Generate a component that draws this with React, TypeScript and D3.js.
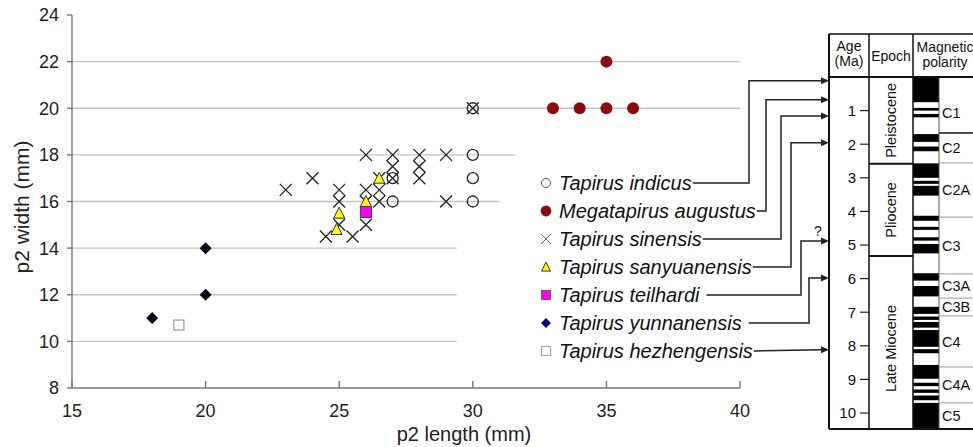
import React, { useEffect, useRef } from "react";
import * as d3 from "d3";

// ---------- data ----------
const xTicks = [15, 20, 25, 30, 35, 40];
const yTicks = [8, 10, 12, 14, 16, 18, 20, 22, 24];
const gridValues = [10, 12, 14, 16, 18, 20, 22];

const speciesNames = [
  "Tapirus indicus",
  "Megatapirus augustus",
  "Tapirus sinensis",
  "Tapirus sanyuanensis",
  "Tapirus teilhardi",
  "Tapirus yunnanensis",
  "Tapirus hezhengensis",
];

const indicus: [number, number][] = [[30, 20], [30, 18], [30, 17], [30, 16], [27, 17], [27, 16]];
const augustus: [number, number][] = [[33, 20], [34, 20], [35, 20], [36, 20], [35, 22]];
const sinensis: [number, number][] = [
  [23, 16.5], [24, 17], [24.5, 14.5], [25, 16.5], [25, 16], [25, 15], [25.5, 14.5],
  [26, 18], [26, 16.5], [26, 16], [26, 15], [26.5, 17], [26.5, 16.5], [26.5, 16],
  [27, 18], [27, 17.5], [27, 17], [28, 18], [28, 17.5], [28, 17], [29, 18], [29, 16], [30, 20],
];
const sanyuanensis: [number, number][] = [[25, 15.5], [24.9, 14.8], [26, 16], [26.5, 17]];
const teilhardi: [number, number][] = [[26, 15.55]];
const yunnanensis: [number, number][] = [[20, 14], [20, 12], [18, 11]];
const hezhengensis: [number, number][] = [[19, 10.7]];

// age (Ma) each species points to in the column
const speciesAgesMa = [0.11, 0.68, 1.16, 1.96, 4.88, 5.98, 8.12];
const uncertainAge = [false, false, false, false, true, false, false];

const ageTicks = [1, 2, 3, 4, 5, 6, 7, 8, 9, 10];
const epochNames = ["Pleistocene", "Pliocene", "Late Miocene"];
const epochBounds = [0, 2.58, 5.33, 10.5];
const chronNames = ["C1", "C2", "C2A", "C3", "C3A", "C3B", "C4", "C4A", "C5"];
const chronBounds = [0, 1.67, 2.56, 4.17, 5.86, 6.58, 7.11, 8.63, 9.7, 10.5];
const normalIntervals: [number, number][] = [
  [0, 0.75], [0.92, 1.0], [1.1, 1.2], [1.7, 1.93], [2.07, 2.21], [2.57, 3.0],
  [3.09, 3.18], [3.24, 3.53], [4.13, 4.28], [4.46, 4.55], [4.77, 4.87], [4.97, 5.25],
  [5.84, 6.06], [6.22, 6.53], [6.84, 7.05], [7.13, 7.23], [7.29, 7.46], [7.53, 8.03],
  [8.1, 8.22], [8.57, 8.98], [9.1, 9.2], [9.3, 9.4], [9.48, 9.62], [9.7, 10.5],
];

// ---------- layout ----------
const W = 973;
const H = 447;
const FONT = "'Liberation Sans', Arial, sans-serif";
const gridEndsMm = [29.4, 29.4, 29.4, 31.0, 31.6, 40, 40];
const connectorX = [749, 766, 781, 791, 801, 809, -1];
const connectorGap = [1, 1, 1, 1, 7, 7, 1];
const kinds = ["circleOpen", "circleFilled", "cross", "triangle", "square", "diamond", "squareOpen"];

type Sel = d3.Selection<SVGGElement, unknown, null, undefined>;

function marker(g: Sel, kind: string, x: number, y: number, legend: boolean) {
  const k = legend ? 0.82 : 1;
  if (kind === "circleOpen") {
    g.append("circle").attr("cx", x).attr("cy", y).attr("r", 5.5 * k)
      .attr("fill", "none").attr("stroke", legend ? "#555" : "#222").attr("stroke-width", legend ? 1 : 1.3);
  } else if (kind === "circleFilled") {
    g.append("circle").attr("cx", x).attr("cy", y).attr("r", 6 * (legend ? 0.9 : 1))
      .attr("fill", "#8b0a0a");
  } else if (kind === "cross") {
    const h = 6 * k;
    g.append("path")
      .attr("d", `M${x - h},${y - h}L${x + h},${y + h}M${x - h},${y + h}L${x + h},${y - h}`)
      .attr("stroke", legend ? "#666" : "#222").attr("stroke-width", legend ? 1 : 1.3).attr("fill", "none");
  } else if (kind === "triangle") {
    const hw = 5.5 * k;
    g.append("path")
      .attr("d", `M${x},${y - 6 * k}L${x - hw},${y + 5 * k}L${x + hw},${y + 5 * k}Z`)
      .attr("fill", "#ffff00").attr("stroke", "#333").attr("stroke-width", 1);
  } else if (kind === "square") {
    const s = 11 * k;
    g.append("rect").attr("x", x - s / 2).attr("y", y - s / 2).attr("width", s).attr("height", s)
      .attr("fill", "#ff00ff").attr("stroke", legend ? "#666" : "#444").attr("stroke-width", 1);
  } else if (kind === "diamond") {
    const h = 6 * k;
    g.append("path")
      .attr("d", `M${x},${y - h}L${x + h},${y}L${x},${y + h}L${x - h},${y}Z`)
      .attr("fill", legend ? "#000080" : "#05051a");
  } else if (kind === "squareOpen") {
    const s = 10 * (legend ? 0.9 : 1);
    g.append("rect").attr("x", x - s / 2).attr("y", y - s / 2).attr("width", s).attr("height", s)
      .attr("fill", "#fff").attr("stroke", legend ? "#aaa" : "#999").attr("stroke-width", 1.2);
  }
}

export default function App() {
  const ref = useRef<SVGSVGElement | null>(null);

  useEffect(() => {
    const svg = d3.select(ref.current!);
    svg.selectAll("*").remove();
    const root = svg.append("g") as unknown as Sel;

    const x = d3.scaleLinear().domain([15, 40]).range([72, 740]);
    const y = d3.scaleLinear().domain([8, 24]).range([388, 15]);
    const age = d3.scaleLinear().domain([0, 10.5]).range([77, 429.8]);

    // gridlines
    const grid = root.append("g");
    gridValues.forEach((v, i) => {
      grid.append("line").attr("x1", x(15)).attr("x2", x(gridEndsMm[i]))
        .attr("y1", y(v)).attr("y2", y(v)).attr("stroke", "#c4c4c4").attr("stroke-width", 1.3);
    });

    // axes
    const ax = root.append("g").attr("stroke", "#777").attr("stroke-width", 1.4);
    ax.append("line").attr("x1", x(15)).attr("x2", x(15)).attr("y1", y(24)).attr("y2", y(8));
    ax.append("line").attr("x1", x(15)).attr("x2", x(40)).attr("y1", y(8)).attr("y2", y(8));
    yTicks.forEach((v) => {
      ax.append("line").attr("x1", x(15) - 5).attr("x2", x(15)).attr("y1", y(v)).attr("y2", y(v));
    });
    xTicks.forEach((v) => {
      ax.append("line").attr("x1", x(v)).attr("x2", x(v)).attr("y1", y(8)).attr("y2", y(8) - 7);
    });
    const tl = root.append("g").attr("font-family", FONT).attr("font-size", 18).attr("fill", "#222");
    yTicks.forEach((v) => {
      tl.append("text").attr("x", 59).attr("y", y(v)).attr("dy", "0.36em")
        .attr("text-anchor", "end").text(String(v));
    });
    xTicks.forEach((v) => {
      tl.append("text").attr("x", x(v)).attr("y", 417).attr("text-anchor", "middle").text(String(v));
    });
    root.append("text").attr("transform", "translate(29,207) rotate(-90)")
      .attr("text-anchor", "middle").attr("font-family", FONT).attr("font-size", 21).attr("fill", "#222")
      .text("p2 width (mm)");
    root.append("text").attr("x", 464).attr("y", 441)
      .attr("text-anchor", "middle").attr("font-family", FONT).attr("font-size", 20).attr("fill", "#222")
      .text("p2 length (mm)");

    // points
    const pts = root.append("g");
    const series = [indicus, augustus, sinensis, sanyuanensis, teilhardi, yunnanensis, hezhengensis];
    series.forEach((s, i) => {
      s.forEach(([a, b]) => marker(pts as unknown as Sel, kinds[i], x(a), y(b), false));
    });

    // legend
    const legendY0 = 183;
    const legendStep = 28;
    const lg = root.append("g");
    const textEnds: number[] = [];
    speciesNames.forEach((name, i) => {
      const ly = legendY0 + i * legendStep;
      marker(lg as unknown as Sel, kinds[i], 546, ly, true);
      const t = lg.append("text").attr("x", 559).attr("y", ly + 7)
        .attr("font-family", FONT).attr("font-size", 20).attr("font-style", "italic").attr("fill", "#111")
        .text(name);
      const node = t.node() as SVGTextElement;
      let w = 0;
      try { w = node.getComputedTextLength(); } catch (e) { w = name.length * 10; }
      textEnds.push(559 + w);
    });

    // connectors
    const cg = root.append("g").attr("stroke", "#222").attr("stroke-width", 1.5).attr("fill", "none");
    const colLeft = 829;
    speciesNames.forEach((_, i) => {
      const ly = legendY0 + i * legendStep;
      const ty = age(speciesAgesMa[i]);
      const sx = textEnds[i] + connectorGap[i];
      const vx = connectorX[i];
      let d: string;
      if (vx < 0) d = `M${sx},${ly}L${colLeft - 7},${ty}`;
      else d = `M${sx},${ly}L${vx},${ly}L${vx},${ty}L${colLeft - 7},${ty}`;
      cg.append("path").attr("d", d);
      root.append("path")
        .attr("d", `M${colLeft},${ty}L${colLeft - 8},${ty - 3.5}L${colLeft - 8},${ty + 3.5}Z`)
        .attr("fill", "#222");
      if (uncertainAge[i]) {
        root.append("text").attr("x", 818).attr("y", ty - 5).attr("text-anchor", "middle")
          .attr("font-family", FONT).attr("font-size", 14).attr("fill", "#222").text("?");
      }
    });

    // ---------- stratigraphic column ----------
    const col = root.append("g");
    const top = 34;
    const hdrB = 77;
    const bottom = 429;
    const xAgeR = 869;
    const xEpR = 913;
    const xBarR = 939;
    const xRight = 980;

    normalIntervals.forEach(([a0, a1]) => {
      col.append("rect").attr("x", xEpR).attr("width", xBarR - xEpR)
        .attr("y", age(a0)).attr("height", Math.min(age(a1), bottom) - age(a0)).attr("fill", "#000");
    });
    col.append("line").attr("x1", xBarR).attr("x2", xBarR).attr("y1", hdrB).attr("y2", bottom)
      .attr("stroke", "#555").attr("stroke-width", 1);

    chronNames.forEach((name, i) => {
      if (i > 0) {
        col.append("line").attr("x1", xBarR).attr("x2", xRight)
          .attr("y1", age(chronBounds[i])).attr("y2", age(chronBounds[i]))
          .attr("stroke", i === 1 ? "#111" : "#999").attr("stroke-width", i === 1 ? 1.5 : 1);
      }
      const cy = (age(chronBounds[i]) + Math.min(age(chronBounds[i + 1]), bottom)) / 2;
      col.append("text").attr("x", 942).attr("y", cy + (i === 0 ? 8 : 0)).attr("dy", "0.36em")
        .attr("font-family", FONT).attr("font-size", 14.5).attr("fill", "#111").text(name);
    });

    epochNames.forEach((name, i) => {
      const y0 = age(epochBounds[i]);
      const y1 = Math.min(age(epochBounds[i + 1]), bottom);
      if (i > 0) {
        col.append("line").attr("x1", xAgeR).attr("x2", xEpR).attr("y1", y0).attr("y2", y0)
          .attr("stroke", "#111").attr("stroke-width", 2);
      }
      const cy = (y0 + y1) / 2 + (i === 2 ? 6 : 0);
      col.append("text").attr("transform", `translate(${896},${cy}) rotate(-90)`)
        .attr("text-anchor", "middle").attr("font-family", FONT).attr("font-size", 14.5).attr("fill", "#111")
        .text(name);
    });

    ageTicks.forEach((a) => {
      col.append("line").attr("x1", 860).attr("x2", xAgeR).attr("y1", age(a)).attr("y2", age(a))
        .attr("stroke", "#222").attr("stroke-width", 1.2);
      col.append("text").attr("x", 856).attr("y", age(a)).attr("dy", "0.36em").attr("text-anchor", "end")
        .attr("font-family", FONT).attr("font-size", 15).attr("fill", "#111").text(String(a));
    });

    const fr = col.append("g").attr("stroke", "#111").attr("fill", "none");
    fr.append("line").attr("x1", colLeft).attr("x2", xRight).attr("y1", top).attr("y2", top).attr("stroke-width", 1.5);
    fr.append("line").attr("x1", colLeft).attr("x2", xRight).attr("y1", hdrB).attr("y2", hdrB).attr("stroke-width", 2);
    fr.append("line").attr("x1", colLeft).attr("x2", xRight).attr("y1", bottom).attr("y2", bottom).attr("stroke-width", 2);
    fr.append("line").attr("x1", colLeft).attr("x2", colLeft).attr("y1", top).attr("y2", bottom).attr("stroke-width", 2);
    fr.append("line").attr("x1", xAgeR).attr("x2", xAgeR).attr("y1", top).attr("y2", bottom).attr("stroke-width", 1.5);
    fr.append("line").attr("x1", xEpR).attr("x2", xEpR).attr("y1", top).attr("y2", bottom).attr("stroke-width", 1.5);

    const ht = col.append("g").attr("font-family", FONT).attr("font-size", 14).attr("fill", "#111")
      .attr("text-anchor", "middle");
    ht.append("text").attr("x", 849).attr("y", 51).text("Age");
    ht.append("text").attr("x", 849).attr("y", 66).text("(Ma)");
    ht.append("text").attr("x", 891).attr("y", 61).text("Epoch");
    ht.append("text").attr("x", 945).attr("y", 52).text("Magnetic");
    ht.append("text").attr("x", 945).attr("y", 67).text("polarity");
  }, []);

  return (
    <svg
      ref={ref}
      width={W}
      height={H}
      viewBox={`0 0 ${W} ${H}`}
      style={{ position: "absolute", left: 0, top: 0, background: "#fff" }}
    />
  );
}
